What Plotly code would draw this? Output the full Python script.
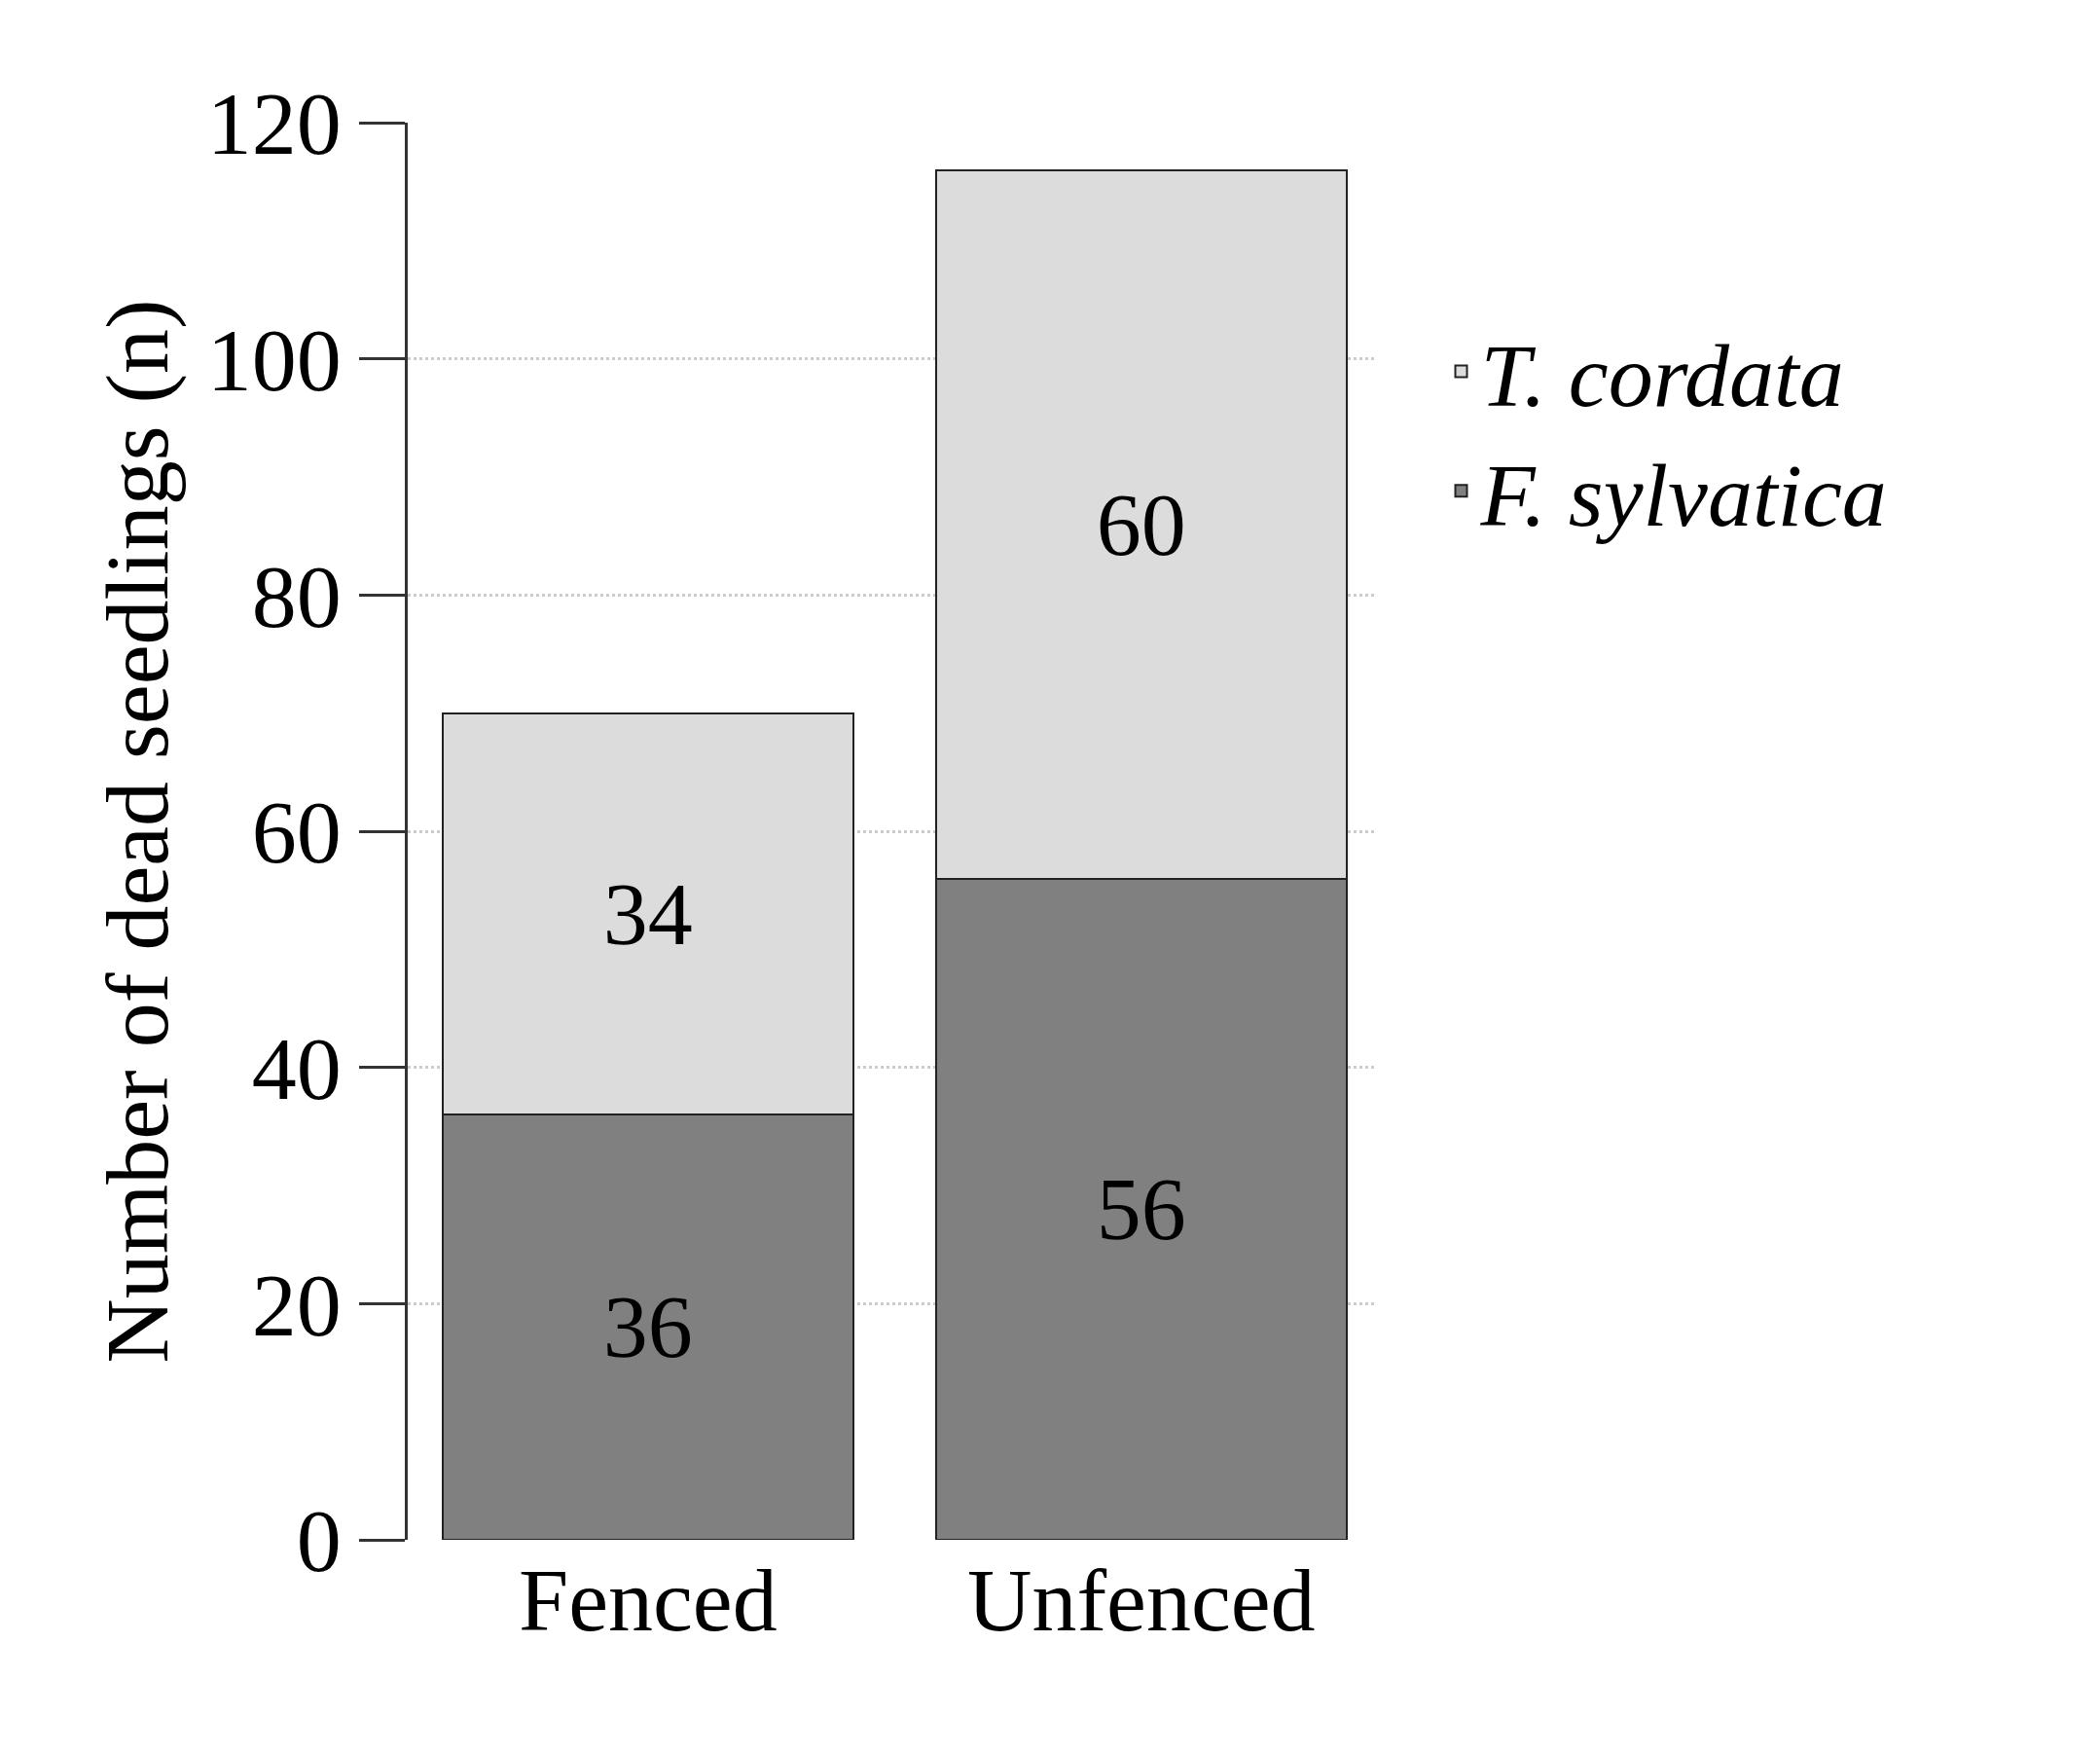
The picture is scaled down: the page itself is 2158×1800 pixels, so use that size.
import plotly.graph_objects as go

categories = ["Fenced", "Unfenced"]
f_sylvatica = [36, 56]
t_cordata = [34, 60]
yticks = [0, 20, 40, 60, 80, 100, 120]

font = "Liberation Serif"
fig = go.Figure()
fig.add_bar(x=categories, y=f_sylvatica, name="<i>F. sylvatica</i>", marker=dict(color="#808080", line=dict(color="#222", width=2.5)),
            text=f_sylvatica, textposition="inside", insidetextanchor="middle", textfont=dict(size=92, color="black", family=font), width=0.832)
fig.add_bar(x=categories, y=t_cordata, name="<i>T. cordata</i>", marker=dict(color="#dcdcdc", line=dict(color="#222", width=2.5)),
            text=t_cordata, textposition="inside", insidetextanchor="middle", textfont=dict(size=92, color="black", family=font), width=0.832)
fig.update_layout(
    barmode="stack", width=2158, height=1800, plot_bgcolor="white", paper_bgcolor="white",
    margin=dict(l=411, r=754, t=118, b=226), font=dict(family=font, size=92, color="black"),
    legend=dict(x=1.07, y=0.87, xanchor="left", yanchor="top", traceorder="reversed", font=dict(size=92), itemsizing="constant"),
    xaxis=dict(range=[-0.487, 1.472], showline=False, ticks="", tickfont=dict(size=92)),
    yaxis=dict(range=[0, 120], tickvals=yticks, showline=True, linecolor="#333", linewidth=2.5, ticks="outside", ticklen=47, tickwidth=2.5, tickcolor="#333",
               showgrid=True, gridcolor="#cccccc", griddash="dot", gridwidth=2.5, zeroline=False,
               title=dict(text="Number of dead seedlings (n)", standoff=10, font=dict(size=92)), tickfont=dict(size=92)),
    bargap=0,
)
fig.write_html("out.html")
